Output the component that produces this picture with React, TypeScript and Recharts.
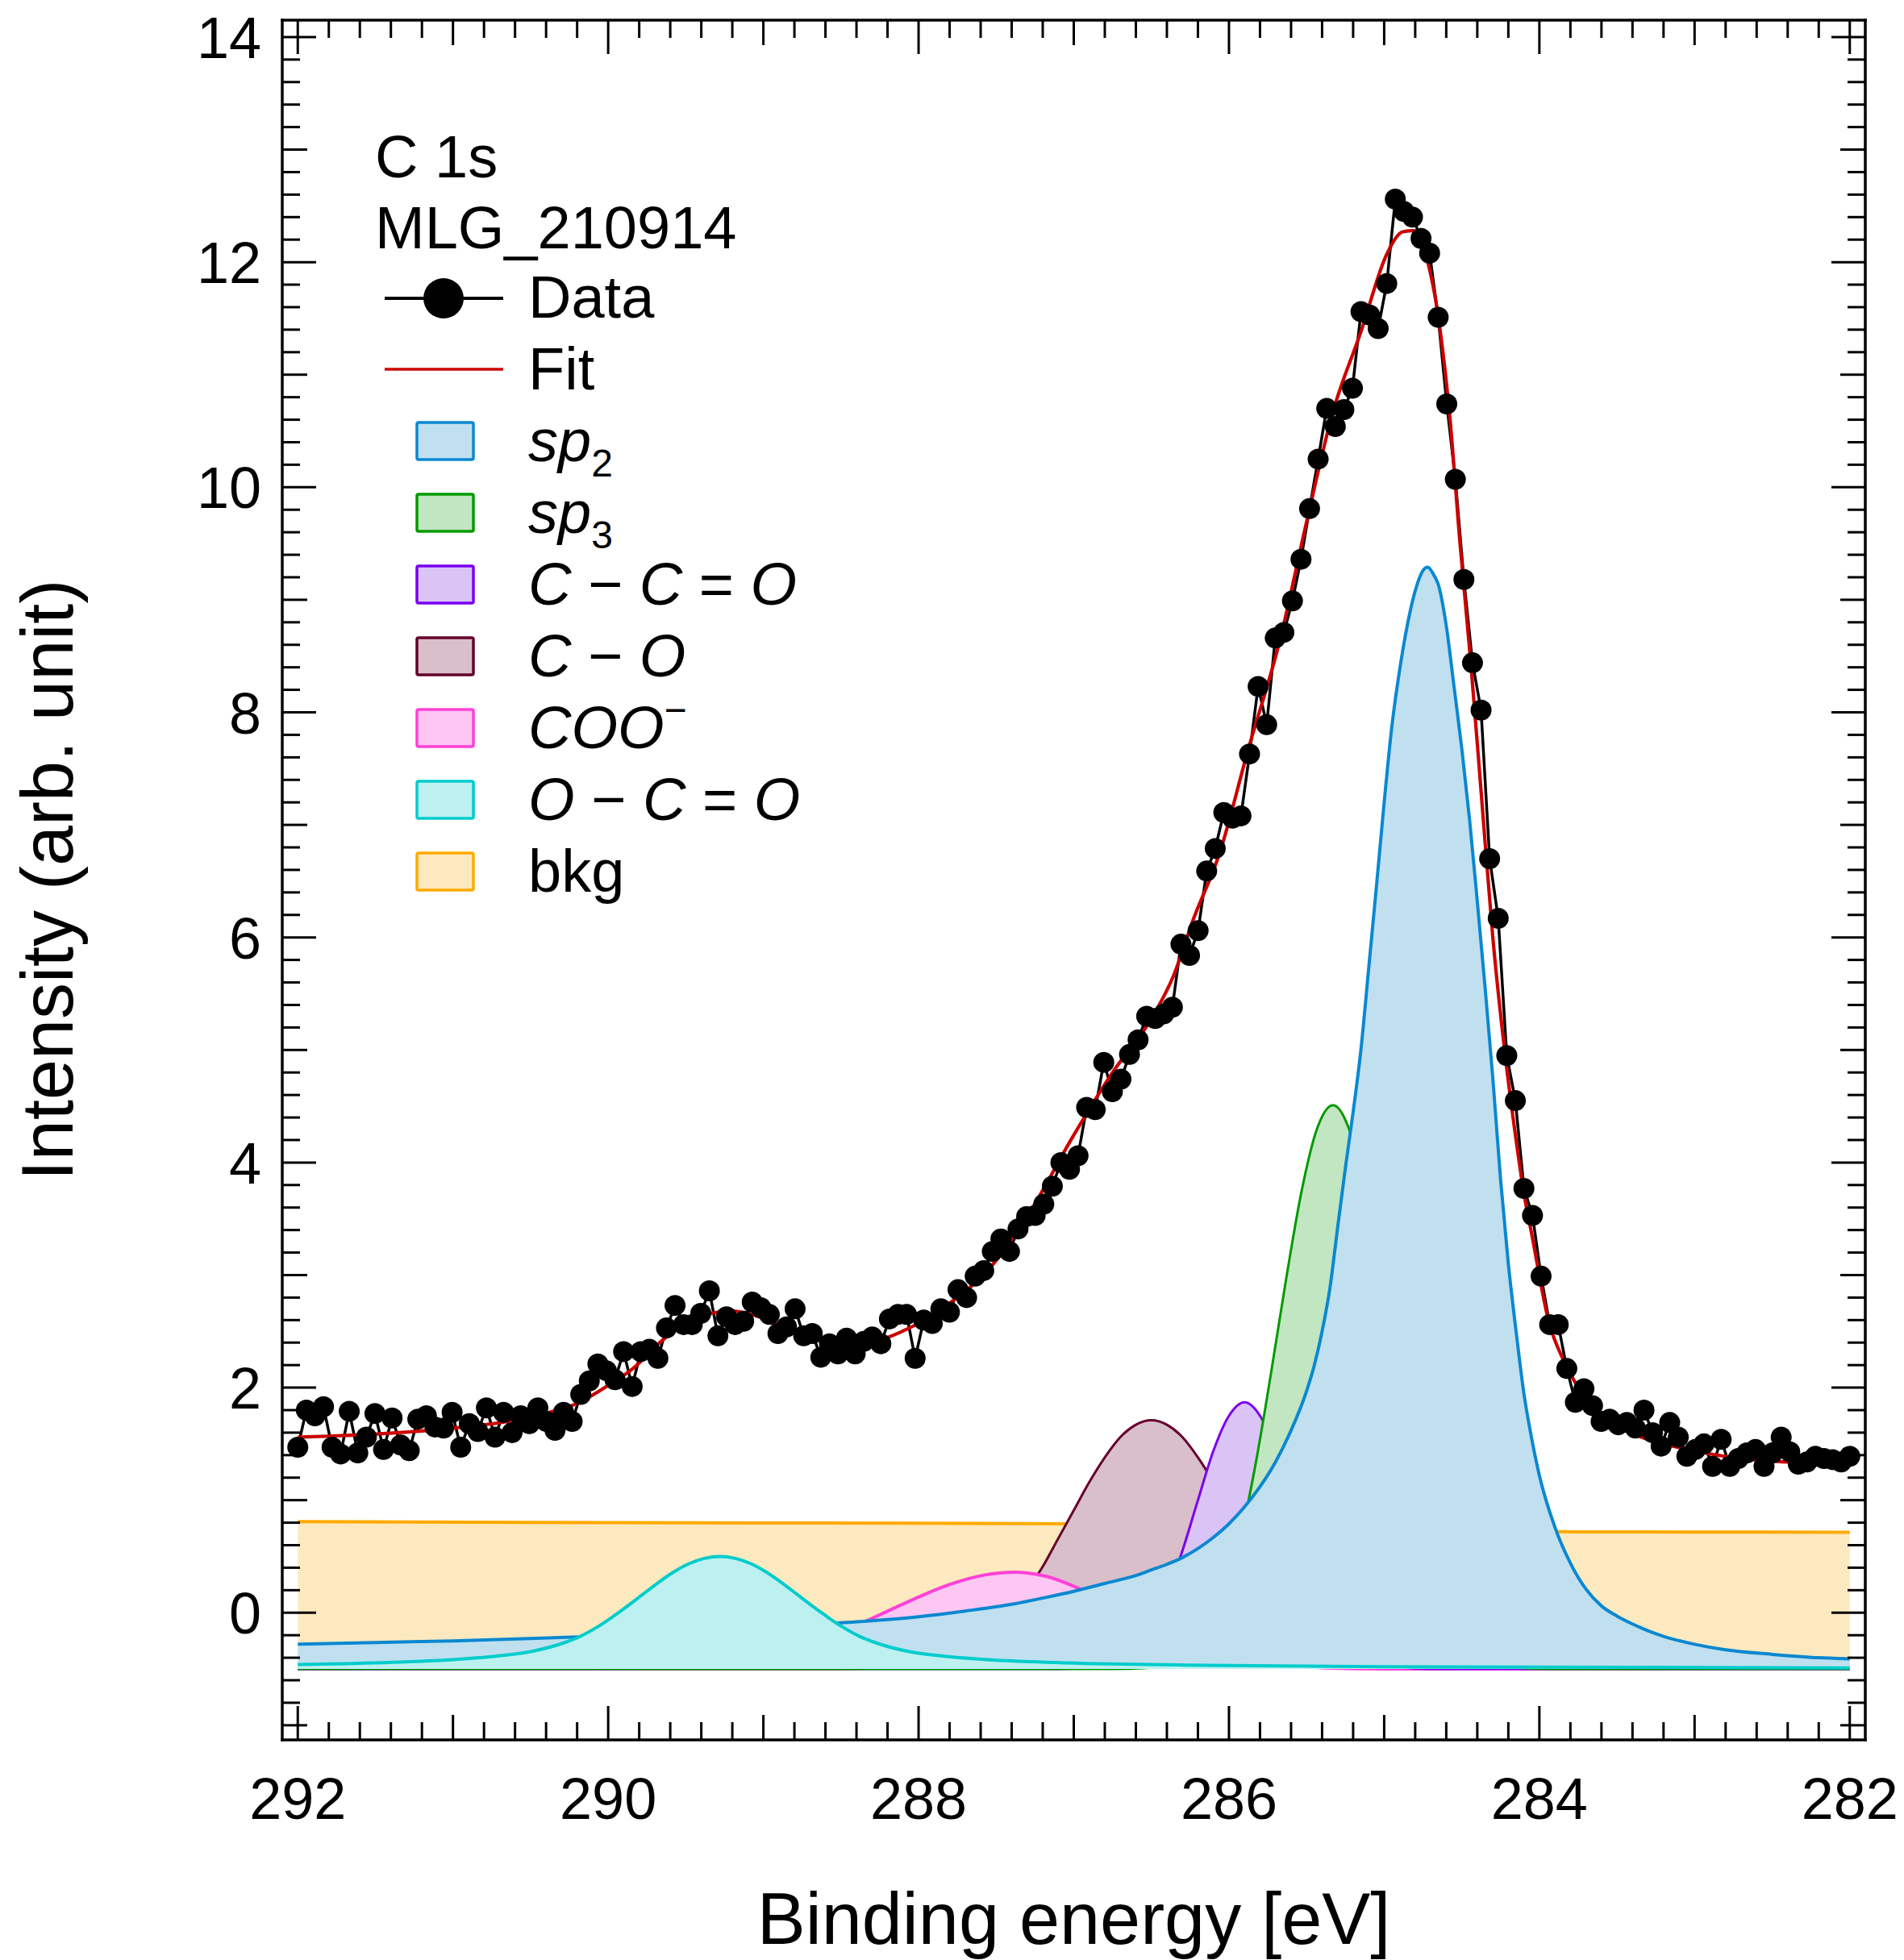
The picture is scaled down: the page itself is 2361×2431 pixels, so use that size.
import { ComposedChart, Area, Line, XAxis, YAxis, Legend } from 'recharts';

const FONT = '"Liberation Sans", Arial, Helvetica, sans-serif';

// measured C 1s counts, evenly spaced from 292 eV down to 282 eV
const intensity = [
  1.47, 1.8, 1.75, 1.83, 1.47, 1.41, 1.79, 1.42, 1.56, 1.77,
  1.45, 1.73, 1.49, 1.44, 1.72, 1.75, 1.65, 1.64, 1.78, 1.47,
  1.68, 1.61, 1.82, 1.56, 1.78, 1.6, 1.75, 1.68, 1.82, 1.7,
  1.62, 1.78, 1.7, 1.94, 2.06, 2.21, 2.15, 2.07, 2.32, 2.01,
  2.32, 2.34, 2.26, 2.53, 2.73, 2.56, 2.56, 2.66, 2.86, 2.46,
  2.63, 2.56, 2.59, 2.76, 2.71, 2.65, 2.48, 2.54, 2.7, 2.46,
  2.48, 2.27, 2.39, 2.3, 2.44, 2.3, 2.41, 2.45, 2.39, 2.61,
  2.65, 2.65, 2.26, 2.6, 2.57, 2.7, 2.67, 2.87, 2.8, 2.99,
  3.04, 3.21, 3.32, 3.21, 3.41, 3.52, 3.53, 3.63, 3.79, 4.0,
  3.94, 4.06, 4.49, 4.47, 4.89, 4.63, 4.74, 4.96, 5.09, 5.3,
  5.28, 5.32, 5.38, 5.94, 5.84, 6.06, 6.59, 6.79, 7.11, 7.06,
  7.08, 7.63, 8.23, 7.89, 8.66, 8.71, 8.99, 9.36, 9.81, 10.25,
  10.7, 10.54, 10.69, 10.88, 11.56, 11.53, 11.41, 11.81, 12.56, 12.45,
  12.4, 12.21, 12.08, 11.51, 10.74, 10.07, 9.18, 8.44, 8.02, 6.7,
  6.17, 4.95, 4.55, 3.77, 3.53, 2.99, 2.56, 2.56, 2.17, 1.87,
  1.99, 1.84, 1.7, 1.72, 1.67, 1.69, 1.64, 1.8, 1.6, 1.48,
  1.69, 1.56, 1.39, 1.45, 1.5, 1.3, 1.54, 1.3, 1.37, 1.42,
  1.45, 1.3, 1.42, 1.56, 1.43, 1.32, 1.34, 1.39, 1.37, 1.36,
  1.34, 1.39,
];
const E_START = 292;
const E_END = 282;

// [binding energy, intensity]
const fit: [number, number][] = [
  [292, 1.56], [291.6, 1.58], [291, 1.64], [290.6, 1.71], [290.35, 1.79], [290.2, 1.86],
  [290, 2.02], [289.84, 2.17], [289.66, 2.41], [289.5, 2.57], [289.34, 2.66], [289.2, 2.68],
  [289.08, 2.65], [288.92, 2.57], [288.73, 2.46], [288.57, 2.4], [288.44, 2.38], [288.28, 2.41],
  [288.12, 2.49], [287.94, 2.62], [287.79, 2.76], [287.53, 3.08], [287.27, 3.59], [287.01, 4.22],
  [286.75, 4.8], [286.49, 5.3], [286.36, 5.65], [286.23, 6.16], [286.06, 6.75], [285.88, 7.65],
  [285.67, 8.65], [285.5, 9.69], [285.33, 10.67], [285.15, 11.38], [284.98, 12.08], [284.88, 12.27],
  [284.81, 12.28], [284.74, 12.1], [284.65, 11.5], [284.58, 10.67], [284.51, 9.48], [284.44, 8.41],
  [284.37, 7.2], [284.3, 6.0], [284.22, 4.95], [284.15, 4.2], [284.1, 3.73], [284.05, 3.37],
  [283.94, 2.59], [283.84, 2.23], [283.74, 1.98], [283.63, 1.78], [283.46, 1.63], [283.28, 1.53],
  [283.11, 1.47], [282.76, 1.38], [282.42, 1.34], [282, 1.31],
];

const sp2: [number, number][] = [
  [292, -0.28], [291.5, -0.265], [291, -0.25], [290.5, -0.23], [290, -0.205], [289.5, -0.175],
  [289, -0.135], [288.5, -0.09], [288, -0.035], [287.7, 0.015], [287.4, 0.075], [287.2, 0.13],
  [287, 0.19], [286.8, 0.26], [286.6, 0.33], [286.5, 0.38], [286.4, 0.43], [286.3, 0.49],
  [286.2, 0.57], [286.1, 0.67], [286, 0.79], [285.9, 0.94], [285.8, 1.12], [285.7, 1.34],
  [285.6, 1.62], [285.5, 1.97], [285.45, 2.2], [285.4, 2.5], [285.35, 2.88], [285.3, 3.42],
  [285.25, 3.95], [285.2, 4.45], [285.15, 5.0], [285.1, 5.72], [285.05, 6.45], [285, 7.2],
  [284.95, 7.88], [284.9, 8.38], [284.85, 8.78], [284.8, 9.08], [284.75, 9.26], [284.72, 9.29],
  [284.68, 9.22], [284.65, 9.13], [284.6, 8.77], [284.55, 8.23], [284.5, 7.68], [284.45, 7.05],
  [284.4, 6.32], [284.35, 5.56], [284.3, 4.75], [284.25, 3.85], [284.2, 3.1], [284.15, 2.5],
  [284.1, 1.95], [284.05, 1.55], [284, 1.22], [283.9, 0.76], [283.8, 0.44], [283.7, 0.21],
  [283.6, 0.06], [283.5, -0.03], [283.4, -0.1], [283.3, -0.16], [283.2, -0.21], [283, -0.28],
  [282.8, -0.33], [282.5, -0.37], [282.2, -0.4], [282, -0.41],
];

const sp3: [number, number][] = [
  [292, -0.5], [286.73, -0.5], [286.53, -0.49], [286.33, -0.42], [286.23, -0.32], [286.13, -0.14],
  [286.03, 0.17], [285.93, 0.64], [285.83, 1.31], [285.73, 2.12], [285.63, 2.98], [285.53, 3.76],
  [285.43, 4.31], [285.33, 4.51], [285.23, 4.31], [285.13, 3.76], [285.03, 2.98], [284.93, 2.12],
  [284.83, 1.31], [284.73, 0.64], [284.63, 0.17], [284.53, -0.14], [284.43, -0.32], [284.33, -0.42],
  [284.13, -0.49], [283.93, -0.5], [282, -0.5],
];

const cco: [number, number][] = [
  [292, -0.5], [287.1, -0.5], [286.9, -0.485], [286.7, -0.41], [286.6, -0.3], [286.5, -0.12],
  [286.4, 0.17], [286.3, 0.55], [286.2, 1.0], [286.1, 1.44], [286, 1.75], [285.9, 1.87],
  [285.8, 1.75], [285.7, 1.44], [285.6, 1.0], [285.5, 0.55], [285.4, 0.17], [285.3, -0.12],
  [285.2, -0.3], [285.1, -0.41], [284.9, -0.485], [284.7, -0.5], [282, -0.5],
];

const co: [number, number][] = [
  [292, -0.5], [288.5, -0.5], [288.1, -0.48], [287.9, -0.44], [287.7, -0.33], [287.5, -0.14],
  [287.4, 0.01], [287.3, 0.2], [287.2, 0.41], [287.1, 0.66], [287, 0.91], [286.9, 1.16],
  [286.8, 1.38], [286.7, 1.56], [286.6, 1.67], [286.5, 1.71], [286.4, 1.67], [286.3, 1.56],
  [286.2, 1.38], [286.1, 1.16], [286, 0.91], [285.9, 0.66], [285.8, 0.41], [285.7, 0.2],
  [285.6, 0.01], [285.5, -0.14], [285.3, -0.33], [285.1, -0.44], [284.9, -0.48], [284.5, -0.5],
  [282, -0.5],
];

const coo: [number, number][] = [
  [292, -0.5], [290.18, -0.5], [289.78, -0.49], [289.38, -0.46], [289.18, -0.43], [288.98, -0.38],
  [288.78, -0.31], [288.58, -0.215], [288.38, -0.1], [288.18, 0.026], [287.98, 0.152], [287.78, 0.26],
  [287.58, 0.334], [287.38, 0.36], [287.18, 0.324], [286.98, 0.223], [286.78, 0.082], [286.58, -0.07],
  [286.38, -0.21], [286.18, -0.32], [285.98, -0.4], [285.78, -0.45], [285.38, -0.49], [284.98, -0.5],
  [282, -0.5],
];

const oco: [number, number][] = [
  [292, -0.46], [291.78, -0.455], [291.28, -0.435], [290.98, -0.415], [290.68, -0.38], [290.48, -0.34],
  [290.28, -0.265], [290.18, -0.21], [290.08, -0.135], [289.98, -0.045], [289.88, 0.055], [289.78, 0.16],
  [289.68, 0.265], [289.58, 0.36], [289.48, 0.435], [289.38, 0.483], [289.28, 0.5], [289.18, 0.483],
  [289.08, 0.435], [288.98, 0.36], [288.88, 0.265], [288.78, 0.16], [288.68, 0.055], [288.58, -0.045],
  [288.48, -0.135], [288.38, -0.21], [288.28, -0.265], [288.08, -0.34], [287.88, -0.38], [287.58, -0.415],
  [287.28, -0.435], [286.78, -0.455], [286.28, -0.465], [285, -0.48], [282, -0.49],
];

const bkg: [number, number][] = [
  [292, 0.81], [290, 0.8], [288, 0.795], [287, 0.79], [286.5, 0.785], [286, 0.775],
  [285.5, 0.76], [285, 0.745], [284.7, 0.735], [284.4, 0.725], [284, 0.72], [283, 0.717],
  [282, 0.715],
];

const xLabels = [282, 284, 286, 288, 290, 292];
const yLabels = [0, 2, 4, 6, 8, 10, 12, 14];
const MINOR = 0.2;

const xTicks = Array.from({ length: 51 }, (_, i) => Math.round((E_END + i * MINOR) * 10) / 10);
const yTicks = Array.from({ length: 76 }, (_, i) => Math.round((-1 + i * MINOR) * 10) / 10);

const toRows = (pts: [number, number][]) => pts.map(([e, v]) => ({ e, v }));
const measured = intensity.map((v, i) => ({
  e: E_START - (i * (E_START - E_END)) / (intensity.length - 1),
  v,
}));

// components in drawing order (back to front)
const peaks = [
  { key: 'bkg', pts: bkg, stroke: '#ffaa00', fill: '#fde9bf', w: 4 },
  { key: 'co', pts: co, stroke: '#66002e', fill: '#d8bfc9', w: 3 },
  { key: 'coo', pts: coo, stroke: '#ff40d8', fill: '#fdc6f3', w: 4 },
  { key: 'cco', pts: cco, stroke: '#7a00f0', fill: '#dac4f6', w: 3 },
  { key: 'sp3', pts: sp3, stroke: '#009a00', fill: '#c2e6c2', w: 3 },
  { key: 'sp2', pts: sp2, stroke: '#0a88d0', fill: '#c0e0f0', w: 4 },
  { key: 'oco', pts: oco, stroke: '#00cccc', fill: '#bdf1f1', w: 4 },
];
const peakStyle = Object.fromEntries(peaks.map((p) => [p.key, p]));

const it = (s: string) => <tspan fontStyle="italic">{s}</tspan>;
const legendItems = [
  { key: 'sp2', label: <>{it('sp')}<tspan fontSize={48} dy={19}>2</tspan></> },
  { key: 'sp3', label: <>{it('sp')}<tspan fontSize={48} dy={19}>3</tspan></> },
  { key: 'cco', label: <>{it('C')}{' − '}{it('C')}{' = '}{it('O')}</> },
  { key: 'co', label: <>{it('C')}{' − '}{it('O')}</> },
  { key: 'coo', label: <>{it('COO')}<tspan fontSize={48} dy={-31}>−</tspan></> },
  { key: 'oco', label: <>{it('O')}{' − '}{it('C')}{' = '}{it('O')}</> },
  { key: 'bkg', label: <>bkg</> },
];

const tickLength = (v: number, labels: number[]) =>
  labels.includes(v) ? 42 : Number.isInteger(v) ? 31 : 22;

function BottomTick({ x, y, payload }: any) {
  const v = payload.value;
  return (
    <g>
      <line x1={x} x2={x} y1={y} y2={y - tickLength(v, xLabels)} stroke="#000" strokeWidth={3} />
      {xLabels.includes(v) && (
        <text x={x} y={y + 98} textAnchor="middle" fontSize={72} fontFamily={FONT} fill="#000">
          {v}
        </text>
      )}
    </g>
  );
}

function TopTick({ x, y, payload }: any) {
  return <line x1={x} x2={x} y1={y} y2={y + tickLength(payload.value, xLabels)} stroke="#000" strokeWidth={3} />;
}

function LeftTick({ x, y, payload }: any) {
  const v = payload.value;
  return (
    <g>
      <line x1={x} x2={x + tickLength(v, yLabels)} y1={y} y2={y} stroke="#000" strokeWidth={3} />
      {yLabels.includes(v) && (
        <text x={x - 26} y={y + 26} textAnchor="end" fontSize={72} fontFamily={FONT} fill="#000">
          {v}
        </text>
      )}
    </g>
  );
}

function RightTick({ x, y, payload }: any) {
  return <line x1={x} x2={x - tickLength(payload.value, yLabels)} y1={y} y2={y} stroke="#000" strokeWidth={3} />;
}

function LegendBox() {
  return (
    <svg width={640} height={1000} fontFamily={FONT} fontSize={74} fill="#000" style={{ overflow: 'visible' }}>
      <text x={5} y={80}>C 1s</text>
      <text x={5} y={168}>MLG_210914</text>
      <line x1={17} x2={164} y1={230} y2={230} stroke="#000" strokeWidth={4} />
      <circle cx={90} cy={230} r={25} fill="#000" />
      <text x={195} y={254}>Data</text>
      <line x1={17} x2={164} y1={318} y2={318} stroke="#cc0000" strokeWidth={3.5} />
      <text x={195} y={343}>Fit</text>
      {legendItems.map((item, i) => {
        const cy = 407 + i * 89;
        const s = peakStyle[item.key];
        return (
          <g key={item.key}>
            <rect x={57} y={cy - 23} width={70} height={46} rx={2} fill={s.fill} stroke={s.stroke} strokeWidth={3.5} />
            <text x={195} y={cy + 25}>{item.label}</text>
          </g>
        );
      })}
    </svg>
  );
}

const frame = { stroke: '#000', strokeWidth: 3.5, strokeLinecap: 'square' as const };

export default function App() {
  return (
    <div style={{ width: 2361, height: 2431, background: '#fff' }}>
      <style>{'body{margin:0;background:#fff}'}</style>
      <ComposedChart width={2361} height={2431} margin={{ top: 15, right: 38, bottom: 0, left: 0 }}>
        <XAxis
          xAxisId="b"
          dataKey="e"
          type="number"
          domain={[281.9, 292.1]}
          allowDataOverflow
          reversed
          ticks={xTicks}
          interval={0}
          height={273}
          tickSize={0}
          tickMargin={0}
          tickLine={false}
          axisLine={frame}
          tick={BottomTick}
          label={{
            value: 'Binding energy [eV]',
            position: 'insideBottom',
            offset: 20,
            fontSize: 90,
            fill: '#000',
            style: { fontFamily: FONT, fontSize: 90 },
          }}
        />
        <XAxis
          xAxisId="t"
          orientation="top"
          dataKey="e"
          type="number"
          domain={[281.9, 292.1]}
          allowDataOverflow
          reversed
          ticks={xTicks}
          interval={0}
          height={10}
          tickSize={0}
          tickMargin={0}
          tickLine={false}
          axisLine={frame}
          tick={TopTick}
        />
        <YAxis
          yAxisId="l"
          type="number"
          domain={[-1.13, 14.15]}
          allowDataOverflow
          ticks={yTicks}
          interval={0}
          width={350}
          tickSize={0}
          tickMargin={0}
          tickLine={false}
          axisLine={frame}
          tick={LeftTick}
          label={{
            value: 'Intensity (arb. unit)',
            angle: -90,
            position: 'insideLeft',
            offset: 58,
            fontSize: 90,
            fill: '#000',
            style: { fontFamily: FONT, fontSize: 90, textAnchor: 'middle' },
          }}
        />
        <YAxis
          yAxisId="r"
          orientation="right"
          type="number"
          domain={[-1.13, 14.15]}
          allowDataOverflow
          ticks={yTicks}
          interval={0}
          width={10}
          tickSize={0}
          tickMargin={0}
          tickLine={false}
          axisLine={frame}
          tick={RightTick}
        />
        {peaks.map((p) => (
          <Area
            key={p.key}
            xAxisId="b"
            yAxisId="l"
            data={toRows(p.pts)}
            dataKey="v"
            type="monotone"
            baseValue={-0.5}
            stroke={p.stroke}
            strokeWidth={p.w}
            fill={p.fill}
            fillOpacity={1}
            dot={false}
            activeDot={false}
            isAnimationActive={false}
          />
        ))}
        <Line
          xAxisId="b"
          yAxisId="l"
          data={measured}
          dataKey="v"
          type="linear"
          stroke="#000"
          strokeWidth={3.5}
          dot={{ r: 13, fill: '#000', stroke: 'none' }}
          activeDot={false}
          isAnimationActive={false}
        />
        <Line
          xAxisId="b"
          yAxisId="l"
          data={toRows(fit)}
          dataKey="v"
          type="monotone"
          stroke="#cc0000"
          strokeWidth={4.2}
          dot={false}
          activeDot={false}
          isAnimationActive={false}
        />
        <Legend
          layout="vertical"
          align="center"
          verticalAlign="middle"
          content={() => <LegendBox />}
          wrapperStyle={{ left: 460, top: 140, width: 640, height: 1000 }}
        />
      </ComposedChart>
    </div>
  );
}
